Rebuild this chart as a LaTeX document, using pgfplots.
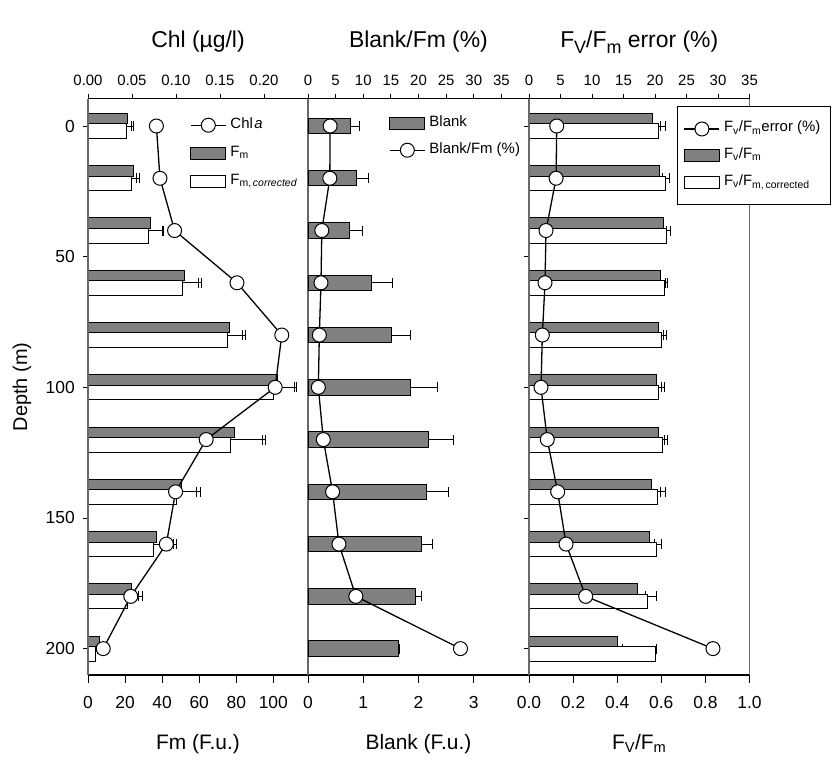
\documentclass[border=0pt]{standalone}
\usepackage{pgfplots}
\pgfplotsset{compat=1.18}
\usepackage{pgfplotstable}
\usepackage{fontspec}
\setmainfont{Liberation Sans}
\definecolor{barg}{RGB}{128,128,128}
\definecolor{spine}{RGB}{105,105,105}
\newcommand{\bigsub}[1]{\raisebox{-6.5bp}{\fontsize{18}{20}\selectfont #1}}

\pgfplotstableread{
d   fm    fme  fmc   fmce chl
0   21.2  3.2  20.9  2.3  0.0777
20  24.5  3.2  23.6  2.7  0.0818
40  33.5  7.2  32.9  7.4  0.0984
60  52.0  9.2  51.1  8.6  0.1693
80  76.6  8.5  75.4  7.7  0.2202
100 102.4 10.3 100.0 11.5 0.2127
120 79.0  16.9 77.0  16.9 0.1343
140 50.6  9.9  47.9  10.7 0.0995
160 37.1  10.8 35.4  10.6 0.0890
180 23.6  5.8  21.4  5.7  0.0486
200 6.1   0.4  4.1   0.9  0.0173
}\tabA
\pgfplotstableread{
d   bl   ble  pct
0   0.77 0.16 4.0
20  0.88 0.21 3.95
40  0.75 0.24 2.5
60  1.15 0.38 2.35
80  1.52 0.33 2.05
100 1.85 0.50 1.87
120 2.18 0.45 2.77
140 2.14 0.40 4.45
160 2.06 0.20 5.6
180 1.94 0.12 8.66
200 1.63 0.03 27.6
}\tabB
\pgfplotstableread{
d   fv    fve   fvc   fvce  err
0   0.561 0.033 0.587 0.033 4.4
20  0.590 0.017 0.617 0.018 4.3
40  0.610 0.015 0.622 0.020 2.7
60  0.595 0.024 0.613 0.017 2.54
80  0.587 0.023 0.602 0.020 2.12
100 0.580 0.021 0.589 0.026 1.9
120 0.587 0.026 0.605 0.024 2.9
140 0.557 0.038 0.582 0.039 4.55
160 0.548 0.021 0.578 0.021 5.88
180 0.492 0.036 0.539 0.039 9.0
200 0.402 0.020 0.573 0.006 29.2
}\tabC

\pgfplotsset{
  panel/.style={scale only axis, width=#1, height=576.3bp, anchor=south west,
    y dir=reverse, ymin=-10.45, ymax=210.1, xmin=0,
    tick align=outside, /pgf/number format/assume math mode=true,
    tick style={black, line width=0.9bp}},
  lowerax/.style={separate axis lines,
    every outer x axis line/.append style={black, line width=1.2bp},
    every outer y axis line/.append style={spine, line width=1.5bp},
    xtick pos=left, ytick=\empty, major tick length=8bp,
    xticklabel style={font=\fontsize{17.5}{20}\selectfont, anchor=north, inner sep=0pt, yshift=-13bp},
    xlabel style={font=\fontsize{21}{24}\selectfont, at={(axis description cs:0.5,-0.1289)}, anchor=base}},
  upperax/.style={axis x line*=top, x axis line style={-, black, line width=1.2bp},
    major tick length=5bp,
    xticklabel style={font=\fontsize{15}{18}\selectfont, anchor=base, inner sep=0pt, yshift=8bp},
    xlabel style={font=\fontsize{23}{26}\selectfont, at={(axis description cs:0.5,1.0892)}, anchor=base},
    legend cell align=left},
  errs/.style={error bars/x dir=plus, error bars/x explicit,
    error bars/error bar style={black, line width=0.9bp},
    error bars/error mark options={rotate=90, black, line width=0.9bp, mark size=5bp}},
  linelegend/.style={legend image code/.code={\draw[mark repeat=2,mark phase=2,##1] plot coordinates {(0bp,0bp) (17.5bp,0bp) (35bp,0bp)};}},
  graylegend/.style={legend image code/.code={\draw[fill=barg, draw=black, line width=1bp] (0bp,-6bp) rectangle (35bp,6bp);}},
  whitelegend/.style={legend image code/.code={\draw[fill=white, draw=black, line width=1bp] (0bp,-6bp) rectangle (35bp,6bp);}},
  circline/.style={black, line width=1.3bp, mark=*, mark size=7bp, mark options={fill=white, draw=black, line width=1bp}},
  legtext/.style={font=\fontsize{15}{18}\selectfont, nodes={inner xsep=4bp, inner ysep=0pt, text height=11bp, text depth=5bp}},
}

\begin{document}
\begin{tikzpicture}
\useasboundingbox (0,0) rectangle (840bp,775bp);
% ---------------- Panel 1 ----------------
\begin{axis}[panel=220bp, at={(88bp,100bp)}, lowerax, xmax=118.7,
  xtick={0,20,40,60,80,100}, xlabel={Fm (F.u.)}]
\addplot[xbar, bar width=4, bar shift=-2.8, fill=barg, draw=black, line width=1bp, errs]
  table[x=fm, y=d, x error=fme] {\tabA};
\addplot[xbar, bar width=5.6, bar shift=2.0, fill=white, draw=black, line width=1bp, errs]
  table[x=fmc, y=d, x error=fmce] {\tabA};
\end{axis}
\begin{axis}[panel=220bp, at={(88bp,100bp)}, upperax, xmax=0.25,
  xtick={0,0.05,0.1,0.15,0.2}, xticklabels={0.00,0.05,0.10,0.15,0.20},
  axis y line*=left, y axis line style={-, spine, line width=1.5bp},
  ytick={0,50,100,150,200},
  yticklabel style={font=\fontsize{17.5}{20}\selectfont, anchor=east, inner sep=0pt, xshift=-8bp},
  ylabel={Depth (m)},
  ylabel style={font=\fontsize{20}{24}\selectfont, at={(axis description cs:-0.3,0.5)}, anchor=center},
  xlabel={Chl (\textmu g/l)},
  legend style={at={(0.4636,0.9682)}, anchor=north west, draw=none, fill=none, inner sep=0pt, row sep=12bp, legtext}]
\addplot[circline, linelegend] table[x=chl, y=d] {\tabA};
\addlegendentry{Chl\kern1.5bp\textit{a}}
\addlegendimage{graylegend}
\addlegendentry{F\textsubscript{m}}
\addlegendimage{whitelegend}
\addlegendentry{F\textsubscript{m,\,\textit{corrected}}}
\end{axis}
% ---------------- Panel 2 ----------------
\begin{axis}[panel=221bp, at={(308bp,100bp)}, lowerax, xmax=4,
  xtick={0,1,2,3}, xlabel={Blank (F.u.)}]
\addplot[xbar, bar width=5.9, bar shift=0, fill=barg, draw=black, line width=1bp, errs]
  table[x=bl, y=d, x error=ble] {\tabB};
\end{axis}
\begin{axis}[panel=221bp, at={(308bp,100bp)}, upperax, xmax=40,
  xtick={0,5,10,15,20,25,30,35}, hide y axis,
  xlabel={Blank/Fm (\%)},
  legend style={at={(0.3665,0.9705)}, anchor=north west, draw=none, fill=none, inner sep=0pt, row sep=10.3bp, legtext}]
\addlegendimage{graylegend}
\addlegendentry{Blank}
\addplot[circline, linelegend] table[x=pct, y=d] {\tabB};
\addlegendentry{Blank/Fm (\%)}
\end{axis}
% ---------------- Panel 3 ----------------
\begin{axis}[panel=220.5bp, at={(529bp,100bp)}, lowerax, xmax=1,
  xtick={0,0.2,0.4,0.6,0.8,1.0}, xticklabels={0.0,0.2,0.4,0.6,0.8,1.0},
  xlabel={F\textsubscript{V}/F\textsubscript{m}}]
\addplot[xbar, bar width=4, bar shift=-2.8, fill=barg, draw=black, line width=1bp, errs]
  table[x=fv, y=d, x error=fve] {\tabC};
\addplot[xbar, bar width=5.6, bar shift=2.0, fill=white, draw=black, line width=1bp, errs]
  table[x=fvc, y=d, x error=fvce] {\tabC};
\end{axis}
\begin{axis}[panel=220.5bp, at={(529bp,100bp)}, upperax, xmax=35,
  xtick={0,5,10,15,20,25,30,35},
  axis y line*=left, y axis line style={-, spine, line width=1.5bp},
  ytick={0,50,100,150,200}, yticklabels={},
  xlabel={F\bigsub{V}/F\bigsub{m} error (\%)},
  legend style={at={(0.6698,0.9865)}, anchor=north west, draw=black, line width=1bp, fill=white, inner xsep=6.6bp, inner ysep=14bp, row sep=10.7bp, legtext}]
\addplot[circline, linelegend] table[x=err, y=d] {\tabC};
\addlegendentry{F\textsubscript{v}/F\textsubscript{m}error (\%)}
\addlegendimage{graylegend}
\addlegendentry{F\textsubscript{v}/F\textsubscript{m}}
\addlegendimage{whitelegend}
\addlegendentry{F\textsubscript{v}/F\textsubscript{m,\,corrected}}
\end{axis}
\end{tikzpicture}
\end{document}
